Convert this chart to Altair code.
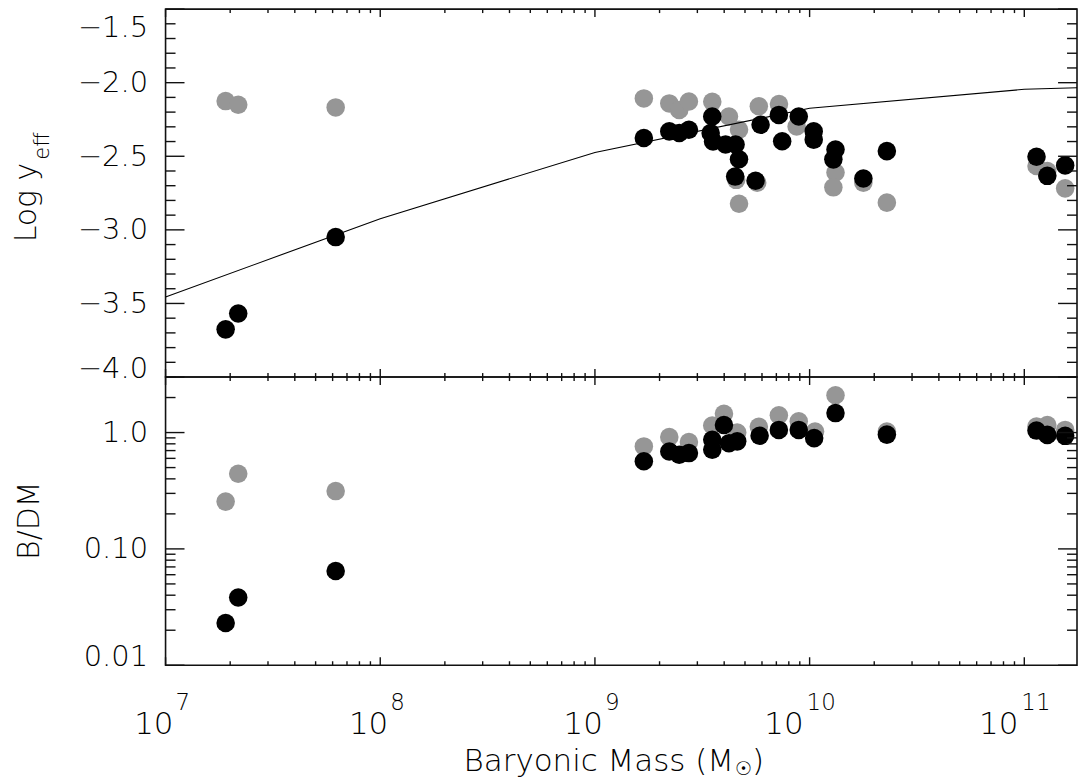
import altair as alt
import pandas as pd

# ---------------- data ----------------
top_gray_mass = [1.905e7, 2.18e7, 6.2e7, 1.69e9, 2.22e9, 2.47e9, 2.74e9, 3.52e9, 4.21e9,
                 4.69e9, 4.69e9, 4.55e9, 5.8e9, 5.7e9, 7.2e9, 8.7e9, 1.32e10, 1.29e10,
                 1.78e10, 2.29e10, 1.14e11, 1.28e11, 1.55e11]
top_gray_logy = [-2.125, -2.15, -2.168, -2.107, -2.141, -2.186, -2.128, -2.13, -2.23,
                 -2.32, -2.823, -2.66, -2.16, -2.68, -2.145, -2.298, -2.61, -2.711,
                 -2.68, -2.815, -2.566, -2.60, -2.718]

top_black_mass = [1.905e7, 2.18e7, 6.2e7, 1.69e9, 2.22e9, 2.47e9, 2.74e9, 3.52e9, 3.46e9,
                  3.55e9, 4.06e9, 4.52e9, 4.69e9, 4.5e9, 5.6e9, 5.91e9, 7.19e9, 7.45e9,
                  8.9e9, 1.045e10, 1.045e10, 1.32e10, 1.29e10, 1.78e10, 2.29e10,
                  1.14e11, 1.28e11, 1.55e11]
top_black_logy = [-3.676, -3.568, -3.049, -2.376, -2.331, -2.342, -2.32, -2.23, -2.342,
                  -2.40, -2.42, -2.42, -2.52, -2.638, -2.666, -2.286, -2.219, -2.398,
                  -2.23, -2.331, -2.387, -2.454, -2.521, -2.651, -2.465,
                  -2.503, -2.633, -2.562]

model_mass = [1e7, 1e8, 1e9, 1e10, 1e11, 1.76e11]
model_logy = [-3.456, -2.924, -2.474, -2.174, -2.045, -2.035]

bot_gray_mass = [1.905e7, 2.18e7, 6.2e7, 1.69e9, 2.22e9, 2.74e9, 3.52e9, 3.99e9, 4.6e9,
                 5.8e9, 7.19e9, 8.9e9, 1.06e10, 1.32e10, 2.29e10, 1.14e11, 1.28e11, 1.55e11]
bot_gray_bdm = [0.255, 0.442, 0.314, 0.76, 0.915, 0.83, 1.15, 1.45, 1.0,
                1.12, 1.41, 1.25, 1.02, 2.09, 1.02, 1.125, 1.16, 1.054]

bot_black_mass = [1.905e7, 2.18e7, 6.2e7, 1.69e9, 2.22e9, 2.47e9, 2.74e9, 3.52e9, 3.52e9,
                  3.99e9, 4.21e9, 4.6e9, 5.85e9, 7.19e9, 8.9e9, 1.05e10, 1.32e10, 2.29e10,
                  1.14e11, 1.28e11, 1.55e11]
bot_black_bdm = [0.0231, 0.0382, 0.0646, 0.566, 0.687, 0.645, 0.666, 0.866, 0.712,
                 1.16, 0.81, 0.84, 0.94, 1.054, 1.054, 0.896, 1.47, 0.96,
                 1.04, 0.955, 0.937]

x_tick_values = [1e7, 1e8, 1e9, 1e10, 1e11]
x_tick_base = ["10", "10", "10", "10", "10"]
x_tick_exp = ["7", "8", "9", "10", "11"]
top_y_tick_values = [-4.0, -3.5, -3.0, -2.5, -2.0, -1.5]
top_y_tick_labels = ["−4.0", "−3.5", "−3.0", "−2.5", "−2.0", "−1.5"]
bot_y_tick_values = [0.01, 0.1, 1.0]
bot_y_tick_labels = ["0.01", "0.10", "1.0"]

x_title_parts = ["Baryonic Mass (M", "☉", ")"]
top_title_parts = ["Log y", "eff"]
bot_title = "B/DM"

# ---------------- layout / style ----------------
X_MIN, X_MAX = 1e7, 1.76e11
W = 914
H_TOP = 369
H_BOT = 289
XMAJ, XMIN = 8, 4
YMAJ, YMIN = 19, 10
AXC = "#111111"
TW = 1.4
FONT = "DejaVu Sans"
FW = 200
GRAY = "#969696"
PT = 346
LFS = 29

x_minor = [k * 10.0 ** e for e in range(7, 12) for k in range(2, 10) if k * 10.0 ** e <= X_MAX]
top_y_minor = [round(-4.0 + 0.1 * i, 1) for i in range(26) if i % 5 != 0]
bot_y_minor = [k * 10.0 ** e for e in (-2, -1, 0) for k in range(2, 10) if k * 10.0 ** e <= 3.0]

xscale = alt.Scale(type="log", domain=[X_MIN, X_MAX], nice=False)
top_yscale = alt.Scale(domain=[-4.0, -1.5], nice=False, zero=False)
bot_yscale = alt.Scale(type="log", domain=[0.01, 3.0], nice=False)


def label_expr(values, labels):
    expr = "''"
    for v, s in reversed(list(zip(values, labels))):
        expr = f"(abs(datum.value - ({v!r})) < 1e-9 ? '{s}' : {expr})"
    return expr


def edge_offsets(lo, hi, lo_shift, hi_shift):
    # push the labels that sit on the frame edges inward, as in the original
    conds = []
    if hi is not None:
        conds.append({"test": f"abs(datum.value - ({hi!r})) < 1e-9", "value": hi_shift})
    if lo is not None:
        conds.append({"test": f"abs(datum.value - ({lo!r})) < 1e-9", "value": lo_shift})
    return {"condition": conds, "value": 0}


def xtick_layers(H):
    out = []
    for vals, L in ((x_tick_values, XMAJ), (x_minor, XMIN)):
        base = alt.Chart(pd.DataFrame({"mass": vals})).mark_rule(color=AXC, strokeWidth=TW)
        ex = alt.X("mass:Q", scale=xscale, axis=None)
        out.append(base.encode(x=ex, y=alt.value(0), y2=alt.value(L)))
        out.append(base.encode(x=ex, y=alt.value(H), y2=alt.value(H - L)))
    return out


def ytick_layers(field, yscale, yaxis, major, minor):
    out = []
    for vals, L in ((major, YMAJ), (minor, YMIN)):
        base = alt.Chart(pd.DataFrame({field: vals})).mark_rule(color=AXC, strokeWidth=TW)
        ey = alt.Y(f"{field}:Q", scale=yscale, axis=yaxis)
        out.append(base.encode(y=ey, x=alt.value(0), x2=alt.value(L)))
        out.append(base.encode(y=ey, x=alt.value(W), x2=alt.value(W - L)))
    return out


def text_layer(s, size, **kw):
    return alt.Chart(pd.DataFrame({"t": [s]})).mark_text(
        font=FONT, fontSize=size, fontWeight=FW, color="black", **kw)


# ---------------- top panel ----------------
top_axis = alt.Axis(values=top_y_tick_values,
                    labelExpr=label_expr(top_y_tick_values, top_y_tick_labels),
                    labelOffset=edge_offsets(-4.0, -1.5, -9, 18.5),
                    ticks=False, domain=False, grid=False, title=None,
                    labelFont=FONT, labelFontSize=LFS, labelFontWeight=FW,
                    labelColor="black", labelPadding=18, labelFlush=False,
                    labelBaseline="middle", labelBound=False, labelOverlap=False)
TX = alt.X("mass:Q", scale=xscale, axis=None)
TY = alt.Y("logy:Q", scale=top_yscale, axis=top_axis)

t_gray = alt.Chart(pd.DataFrame({"mass": top_gray_mass, "logy": top_gray_logy})).mark_circle(
    size=PT, color=GRAY, opacity=1).encode(x=TX, y=TY)

t_line = alt.Chart(pd.DataFrame({"mass": model_mass, "logy": model_logy})).mark_line(
    color="black", strokeWidth=1.1, clip=True).encode(x=TX, y=TY)

t_black = alt.Chart(pd.DataFrame({"mass": top_black_mass, "logy": top_black_logy})).mark_circle(
    size=PT, color="black", opacity=1).encode(x=TX, y=TY)

t_title1 = text_layer(top_title_parts[0], 30, angle=270, align="center",
                      baseline="alphabetic").encode(text="t:N", x=alt.value(-130), y=alt.value(194))
t_title2 = text_layer(top_title_parts[1], 21, angle=270, align="left",
                      baseline="alphabetic").encode(text="t:N", x=alt.value(-117), y=alt.value(151))

top = alt.layer(t_gray, t_line, t_black,
                *xtick_layers(H_TOP),
                *ytick_layers("logy", top_yscale, top_axis, top_y_tick_values, top_y_minor),
                t_title1, t_title2).properties(width=W, height=H_TOP)

# ---------------- bottom panel ----------------
bot_yaxis = alt.Axis(values=bot_y_tick_values,
                     labelExpr=label_expr(bot_y_tick_values, bot_y_tick_labels),
                     labelOffset=edge_offsets(0.01, None, -9, 0),
                     ticks=False, domain=False, grid=False, title=None,
                     labelFont=FONT, labelFontSize=LFS, labelFontWeight=FW,
                     labelColor="black", labelPadding=18, labelFlush=False,
                     labelBaseline="middle", labelBound=False, labelOverlap=False)
BX = alt.X("mass:Q", scale=xscale, axis=None)
BY = alt.Y("bdm:Q", scale=bot_yscale, axis=bot_yaxis)

b_gray = alt.Chart(pd.DataFrame({"mass": bot_gray_mass, "bdm": bot_gray_bdm})).mark_circle(
    size=PT, color=GRAY, opacity=1).encode(x=BX, y=BY)

b_black = alt.Chart(pd.DataFrame({"mass": bot_black_mass, "bdm": bot_black_bdm})).mark_circle(
    size=PT, color="black", opacity=1).encode(x=BX, y=BY)

lab_df = pd.DataFrame({"mass": x_tick_values, "base": x_tick_base, "exp": x_tick_exp})
lab_layers = []
for cond, dx_base, dx_exp in (("length(datum.exp) == 1", 8, 10), ("length(datum.exp) > 1", -6, -3)):
    lab_layers.append(alt.Chart(lab_df).transform_filter(cond).mark_text(
        align="right", baseline="alphabetic", dx=dx_base, font=FONT, fontSize=31,
        fontWeight=FW, color="black").encode(x=BX, y=alt.value(H_BOT + 69), text="base:N"))
    lab_layers.append(alt.Chart(lab_df).transform_filter(cond).mark_text(
        align="left", baseline="alphabetic", dx=dx_exp, font=FONT, fontSize=23,
        fontWeight=FW, color="black").encode(x=BX, y=alt.value(H_BOT + 45), text="exp:N"))

xt1 = text_layer(x_title_parts[0], 31, align="right", baseline="alphabetic").encode(
    text="t:N", x=alt.value(570), y=alt.value(H_BOT + 106))
xt2 = text_layer(x_title_parts[1], 19, align="left", baseline="alphabetic").encode(
    text="t:N", x=alt.value(571), y=alt.value(H_BOT + 110))
xt3 = text_layer(x_title_parts[2], 31, align="left", baseline="alphabetic").encode(
    text="t:N", x=alt.value(588), y=alt.value(H_BOT + 106))

b_title = text_layer(bot_title, 30, angle=270, align="center", baseline="alphabetic").encode(
    text="t:N", x=alt.value(-127), y=alt.value(144))

bottom = alt.layer(b_gray, b_black,
                   *xtick_layers(H_BOT),
                   *ytick_layers("bdm", bot_yscale, bot_yaxis, bot_y_tick_values, bot_y_minor),
                   *lab_layers, xt1, xt2, xt3, b_title).properties(width=W, height=H_BOT)

chart = alt.vconcat(top, bottom, spacing=0, bounds="flush").properties(
    padding={"left": 3, "top": -2, "right": 0, "bottom": 0}, background="white"
).configure_view(stroke=AXC, strokeWidth=1.6).configure_axis(grid=False)

chart.save("out.html", embed_options={"renderer": "svg", "actions": False})
